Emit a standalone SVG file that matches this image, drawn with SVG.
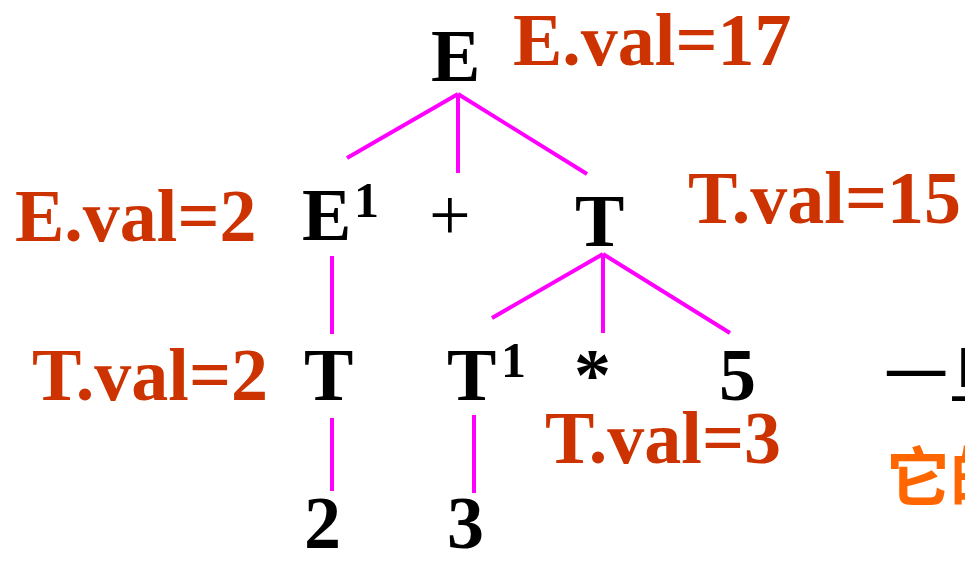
<svg xmlns="http://www.w3.org/2000/svg" width="965" height="561" viewBox="0 0 965 561">
<style>
.sym{font-family:"Liberation Serif","Times New Roman",serif;font-weight:bold;font-size:74px;fill:#000}
.sup{font-family:"Liberation Serif","Times New Roman",serif;font-weight:bold;font-size:50px;fill:#000}
.plus{font-family:"Liberation Serif","Times New Roman",serif;font-weight:normal;font-size:74px;fill:#000}
.val{font-family:"Liberation Serif","Times New Roman",serif;font-weight:bold;font-size:74px;fill:#CC3300}
.cjk{font-family:"Noto Sans CJK SC","Noto Sans",sans-serif;font-size:64px}
.edge{stroke:#FF00FF;stroke-width:4;fill:none;stroke-linecap:butt}
</style>
<rect width="965" height="561" fill="#fff"/>
<g id="connectors" class="edge">
<line x1="458" y1="94" x2="347" y2="158"/>
<line x1="458" y1="94" x2="458" y2="173"/>
<line x1="458" y1="94" x2="587" y2="174"/>
<line x1="603" y1="254" x2="492" y2="318"/>
<line x1="603" y1="254" x2="603" y2="333"/>
<line x1="603" y1="254" x2="730" y2="333"/>
<line x1="332" y1="256" x2="332" y2="334"/>
<line x1="332" y1="418" x2="332" y2="491"/>
<line x1="474" y1="415" x2="474" y2="493"/>
</g>
<g id="node-E"><text class="sym" x="431" y="81">E</text></g>
<g id="label-E17"><text class="val" x="513" y="65">E.val=17</text></g>
<g id="node-E1"><text class="sym" x="302" y="240">E</text><text class="sup" x="354" y="217">1</text></g>
<g id="label-E2"><text class="val" x="15" y="241">E.val=2</text></g>
<g id="node-plus"><text class="plus" x="429" y="240">+</text></g>
<g id="node-T"><text class="sym" x="575" y="246">T</text></g>
<g id="label-T15"><text class="val" x="688" y="223">T.val=15</text></g>
<g id="node-T-left"><text class="sym" x="304" y="400">T</text></g>
<g id="label-T2"><text class="val" x="32" y="400">T.val=2</text></g>
<g id="node-T1"><text class="sym" x="447" y="400">T</text><text class="sup" x="501" y="377">1</text></g>
<g id="node-star"><text class="sym" x="574" y="400">*</text></g>
<g id="node-5"><text class="sym" x="719" y="400">5</text></g>
<g id="label-T3"><text class="val" x="545" y="463">T.val=3</text></g>
<g id="node-2"><text class="sym" x="304" y="548">2</text></g>
<g id="node-3"><text class="sym" x="447" y="548">3</text></g>
<g id="note"><text class="cjk" x="884" y="398" fill="#000">一旦</text><text class="cjk" x="886" y="500" fill="#FF6600" font-weight="bold">它的</text></g>
</svg>
